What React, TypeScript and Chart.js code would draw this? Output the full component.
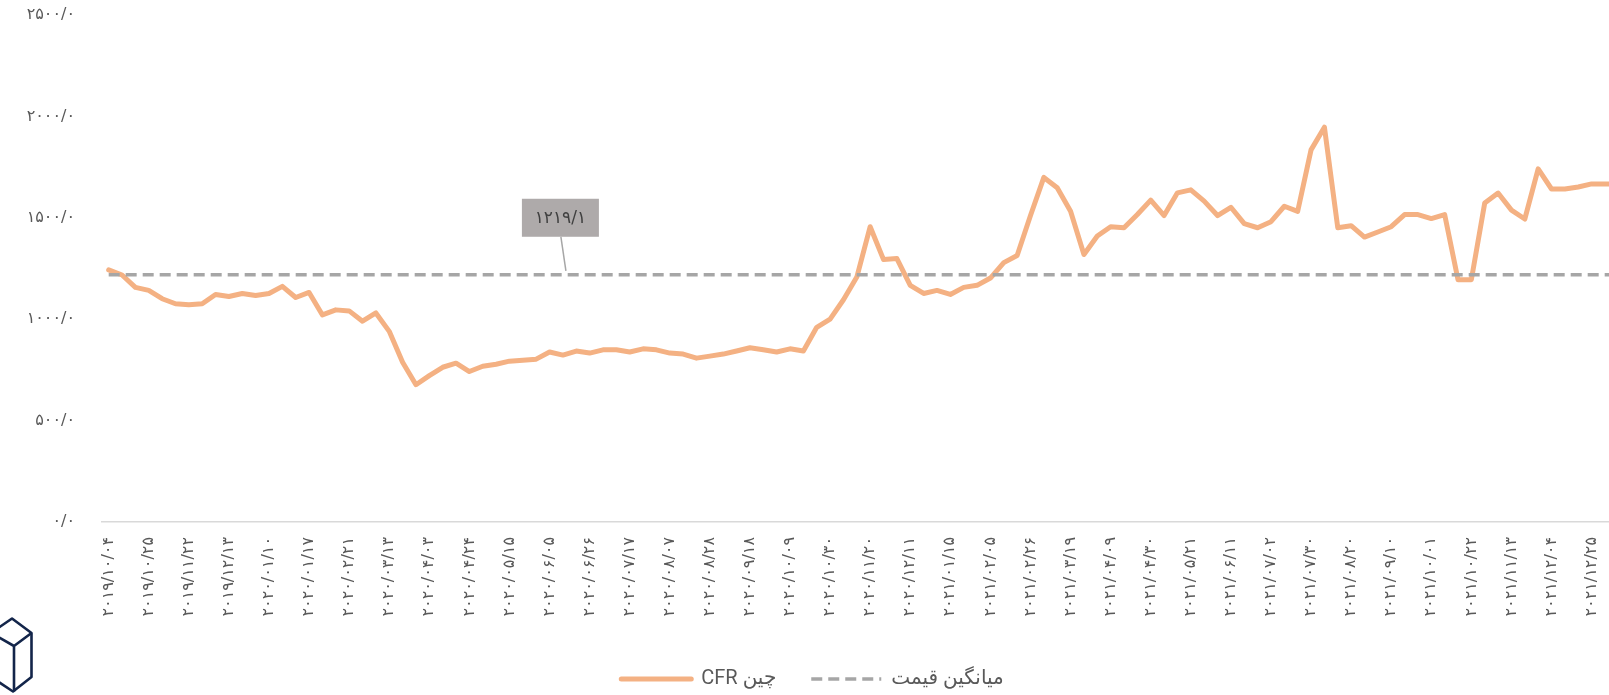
import React, { useEffect, useRef } from 'react';
import { Chart, registerables } from 'chart.js';

Chart.register(...registerables);

// Tick labels shown every third weekly observation
const tickDates: string[] = [
  '۲۰۱۹/۱۰/۰۴', '۲۰۱۹/۱۰/۲۵', '۲۰۱۹/۱۱/۲۲', '۲۰۱۹/۱۲/۱۳', '۲۰۲۰/۰۱/۱۰', '۲۰۲۰/۰۱/۱۷',
  '۲۰۲۰/۰۲/۲۱', '۲۰۲۰/۰۳/۱۳', '۲۰۲۰/۰۴/۰۳', '۲۰۲۰/۰۴/۲۴', '۲۰۲۰/۰۵/۱۵', '۲۰۲۰/۰۶/۰۵',
  '۲۰۲۰/۰۶/۲۶', '۲۰۲۰/۰۷/۱۷', '۲۰۲۰/۰۸/۰۷', '۲۰۲۰/۰۸/۲۸', '۲۰۲۰/۰۹/۱۸', '۲۰۲۰/۱۰/۰۹',
  '۲۰۲۰/۱۰/۳۰', '۲۰۲۰/۱۱/۲۰', '۲۰۲۰/۱۲/۱۱', '۲۰۲۱/۰۱/۱۵', '۲۰۲۱/۰۲/۰۵', '۲۰۲۱/۰۲/۲۶',
  '۲۰۲۱/۰۳/۱۹', '۲۰۲۱/۰۴/۰۹', '۲۰۲۱/۰۴/۳۰', '۲۰۲۱/۰۵/۲۱', '۲۰۲۱/۰۶/۱۱', '۲۰۲۱/۰۷/۰۲',
  '۲۰۲۱/۰۷/۳۰', '۲۰۲۱/۰۸/۲۰', '۲۰۲۱/۰۹/۱۰', '۲۰۲۱/۱۰/۰۱', '۲۰۲۱/۱۰/۲۲', '۲۰۲۱/۱۱/۱۳',
  '۲۰۲۱/۱۲/۰۴', '۲۰۲۱/۱۲/۲۵',
];

// China CFR price series (weekly)
const cfrPrices: number[] = [
  1243, 1218, 1157, 1142, 1101, 1076, 1071, 1076, 1122, 1112,
  1127, 1117, 1127, 1162, 1107, 1132, 1021, 1046, 1041, 990,
  1031, 940, 788, 677, 722, 763, 783, 742, 768, 778,
  793, 798, 803, 838, 823, 843, 833, 849, 849, 838,
  854, 849, 833, 828, 808, 818, 828, 843, 859, 849,
  838, 854, 843, 960, 1000, 1096, 1208, 1456, 1294, 1299,
  1167, 1127, 1142, 1122, 1157, 1167, 1203, 1279, 1314, 1511,
  1699, 1648, 1532, 1319, 1410, 1456, 1451, 1516, 1587, 1511,
  1623, 1638, 1582, 1511, 1552, 1471, 1451, 1481, 1557, 1532,
  1835, 1947, 1451, 1461, 1405, 1430, 1456, 1516, 1516, 1496,
  1516, 1195, 1195, 1573, 1622, 1538, 1494, 1741, 1642, 1642,
  1652, 1667, 1667, 1667,
];

const averagePrice = 1219.1;
const averageLabel = '۱۲۱۹/۱';
const averageLabelIndex = 34;

const seriesNames: string[] = ['چین CFR', 'میانگین قیمت'];
const yTickLabels: string[] = ['۰/۰', '۵۰۰/۰', '۱۰۰۰/۰', '۱۵۰۰/۰', '۲۰۰۰/۰', '۲۵۰۰/۰'];

const categories: string[] = cfrPrices.map((_, i) =>
  i % 3 === 0 && tickDates[i / 3] ? tickDates[i / 3] : ''
);

const avgLabelPlugin = {
  id: 'avgLabel',
  afterDatasetsDraw(chart: any) {
    const { ctx, scales } = chart;
    const px = scales.x.getPixelForValue(averageLabelIndex);
    const py = scales.y.getPixelForValue(averagePrice);
    const bw = 77;
    const bh = 38;
    const bx = px - 41;
    const by = py - 76;
    ctx.save();
    ctx.strokeStyle = '#A6A6A6';
    ctx.lineWidth = 1.5;
    ctx.beginPath();
    ctx.moveTo(px - 2, by + bh);
    ctx.lineTo(px + 3, py - 4);
    ctx.stroke();
    ctx.fillStyle = '#AEAAAA';
    ctx.fillRect(bx, by, bw, bh);
    ctx.fillStyle = '#404040';
    ctx.font = '17px "DejaVu Sans"';
    ctx.textAlign = 'center';
    ctx.textBaseline = 'middle';
    ctx.fillText(averageLabel, bx + bw / 2, by + bh / 2 + 1);
    ctx.restore();
  },
};

const logoPlugin = {
  id: 'logo',
  afterDraw(chart: any) {
    const { ctx } = chart;
    ctx.save();
    ctx.strokeStyle = '#13254A';
    ctx.lineWidth = 2.6;
    ctx.lineJoin = 'round';
    ctx.beginPath();
    ctx.moveTo(-9, 633);
    ctx.lineTo(12, 618.5);
    ctx.lineTo(31.5, 633);
    ctx.lineTo(31.5, 677);
    ctx.lineTo(13, 691.5);
    ctx.lineTo(-9, 677);
    ctx.stroke();
    ctx.beginPath();
    ctx.moveTo(-9, 633);
    ctx.lineTo(14, 646);
    ctx.lineTo(31.5, 633);
    ctx.moveTo(14, 646);
    ctx.lineTo(14, 691.5);
    ctx.stroke();
    ctx.restore();
  },
};

export default function App() {
  const ref = useRef<HTMLCanvasElement>(null);

  useEffect(() => {
    if (!ref.current) return;
    const chart = new Chart(ref.current, {
      type: 'line',
      data: {
        labels: categories,
        datasets: [
          {
            label: seriesNames[0],
            data: cfrPrices,
            borderColor: '#F4B183',
            backgroundColor: '#F4B183',
            borderWidth: 5,
            pointRadius: 0,
            tension: 0,
            borderJoinStyle: 'round',
            borderCapStyle: 'round',
            order: 2,
          },
          {
            label: seriesNames[1],
            data: cfrPrices.map(() => averagePrice),
            borderColor: '#A6A6A6',
            backgroundColor: '#A6A6A6',
            borderWidth: 3.5,
            borderDash: [11, 6],
            pointRadius: 0,
            order: 1,
          },
        ],
      },
      options: {
        responsive: false,
        animation: false,
        layout: { padding: { top: 15, left: 0, right: 31, bottom: 0 } },
        scales: {
          x: {
            type: 'category',
            offset: true,
            grid: { display: false, drawTicks: false },
            border: { display: true, color: '#D9D9D9', width: 1.5 },
            ticks: {
              autoSkip: false,
              minRotation: 90,
              maxRotation: 90,
              padding: 15,
              color: '#595959',
              font: { family: '"DejaVu Sans"', size: 16 },
            },
            afterFit: (s: any) => {
              s.height = 112;
            },
          },
          y: {
            min: 0,
            max: 2500,
            grid: { display: false, drawTicks: false },
            border: { display: false },
            ticks: {
              stepSize: 500,
              padding: 27,
              color: '#595959',
              font: { family: '"DejaVu Sans"', size: 16 },
              callback: (_v: any, idx: number) => yTickLabels[idx],
            },
            afterFit: (s: any) => {
              s.width = 102;
              s.paddingTop = 8;
              s.paddingBottom = 8;
            },
          },
        },
        plugins: {
          tooltip: { enabled: false },
          legend: {
            position: 'bottom',
            textDirection: 'rtl',
            labels: {
              usePointStyle: true,
              pointStyleWidth: 70,
              padding: 35,
              color: '#595959',
              font: { family: 'Roboto, "DejaVu Sans"', size: 20 },
              generateLabels: (c: any) =>
                c.data.datasets.map((ds: any, i: number) => ({
                  text: ds.label,
                  fillStyle: ds.borderColor,
                  strokeStyle: ds.borderColor,
                  lineWidth: ds.borderWidth,
                  lineDash: ds.borderDash || [],
                  lineCap: i === 0 ? 'round' : 'butt',
                  pointStyle: 'line',
                  hidden: false,
                  datasetIndex: i,
                  fontColor: '#595959',
                })),
            },
          },
        },
      },
      plugins: [avgLabelPlugin, logoPlugin],
    } as any);
    return () => chart.destroy();
  }, []);

  return (
    <div style={{ position: 'fixed', left: 0, top: 0, width: 1609, height: 695, overflow: 'hidden', background: '#fff' }}>
      <canvas ref={ref} width={1656} height={699} style={{ display: 'block' }} />
    </div>
  );
}
